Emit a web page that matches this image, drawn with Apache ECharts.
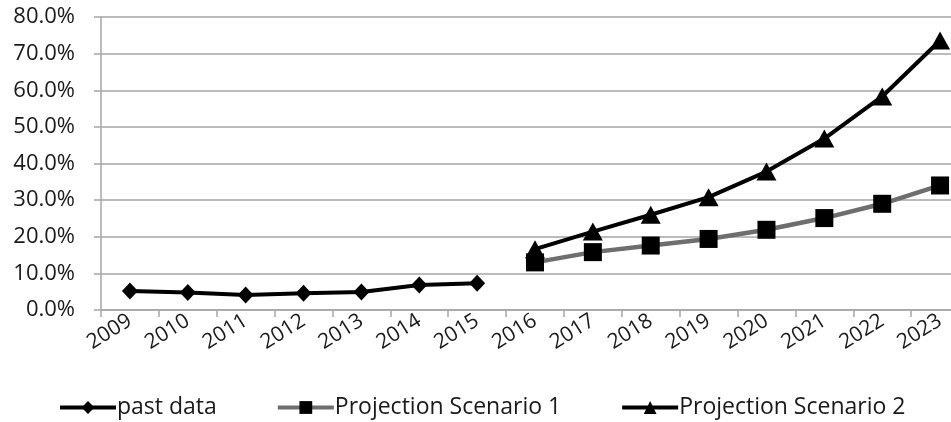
<!DOCTYPE html>
<html>
<head>
<meta charset="utf-8">
<script src="https://cdn.jsdelivr.net/npm/echarts@6/dist/echarts.min.js"></script>
<style>html,body{margin:0;padding:0;background:#fff}#c{width:951px;height:422px}</style>
</head>
<body>
<div id="c"></div>
<script>
const years = ['2009','2010','2011','2012','2013','2014','2015','2016','2017','2018','2019','2020','2021','2022','2023'];
const pastData = [5.2, 4.8, 4.1, 4.6, 4.9, 6.8, 7.3, null, null, null, null, null, null, null, null];
const scenario1 = [null, null, null, null, null, null, null, 13.0, 15.8, 17.6, 19.4, 21.9, 25.1, 29.0, 34.0];
const scenario2 = [null, null, null, null, null, null, null, 16.6, 21.4, 26.0, 30.8, 37.8, 46.8, 58.3, 73.6];
const yTicks = [0, 10, 20, 30, 40, 50, 60, 70, 80];

const FONT = 'Open Sans';
const chart = echarts.init(document.getElementById('c'));
chart.setOption({
  animation: false,
  backgroundColor: '#fff',
  textStyle: { fontFamily: FONT },
  grid: { left: 101, top: 17, width: 868, height: 293, outerBoundsMode: 'none', containLabel: false },
  xAxis: {
    type: 'category',
    data: years,
    boundaryGap: true,
    axisLine: { lineStyle: { color: '#a6a6a6', width: 1.5 } },
    axisTick: { show: true, length: 7, lineStyle: { color: '#a6a6a6', width: 1.5 } },
    axisLabel: { rotate: 32, margin: 9, color: '#1a1a1a', fontSize: 21, fontFamily: FONT, interval: 0 }
  },
  yAxis: {
    type: 'value',
    min: yTicks[0],
    max: yTicks[yTicks.length - 1],
    interval: 10,
    axisLine: { show: true, lineStyle: { color: '#a6a6a6', width: 1.5 } },
    axisTick: { show: true, length: 7, lineStyle: { color: '#a6a6a6', width: 1.5 } },
    splitLine: { lineStyle: { color: '#a6a6a6', width: 1.5 } },
    axisLabel: { margin: 26, color: '#1a1a1a', fontSize: 22, fontFamily: FONT, formatter: v => v.toFixed(1) + '%' }
  },
  legend: {
    bottom: 3,
    left: 58,
    padding: 0,
    itemWidth: 56,
    itemHeight: 16,
    itemGap: 59,
    lineStyle: { width: 4 },
    textStyle: { fontSize: 23, color: '#1a1a1a', fontFamily: FONT, padding: [0, 0, 0, -4] },
    data: ['past data', 'Projection Scenario 1', 'Projection Scenario 2']
  },
  series: [
    {
      name: 'past data', type: 'line', data: pastData,
      symbol: 'diamond', symbolSize: [16, 17],
      lineStyle: { color: '#000', width: 4 },
      itemStyle: { color: '#000' }
    },
    {
      name: 'Projection Scenario 1', type: 'line', data: scenario1,
      symbol: 'rect', symbolSize: 18,
      lineStyle: { color: '#6e6e6e', width: 4.5 },
      itemStyle: { color: '#000' }
    },
    {
      name: 'Projection Scenario 2', type: 'line', data: scenario2,
      symbol: 'triangle', symbolSize: [20, 18],
      lineStyle: { color: '#000', width: 4 },
      itemStyle: { color: '#000' }
    }
  ]
});
</script>
</body>
</html>
